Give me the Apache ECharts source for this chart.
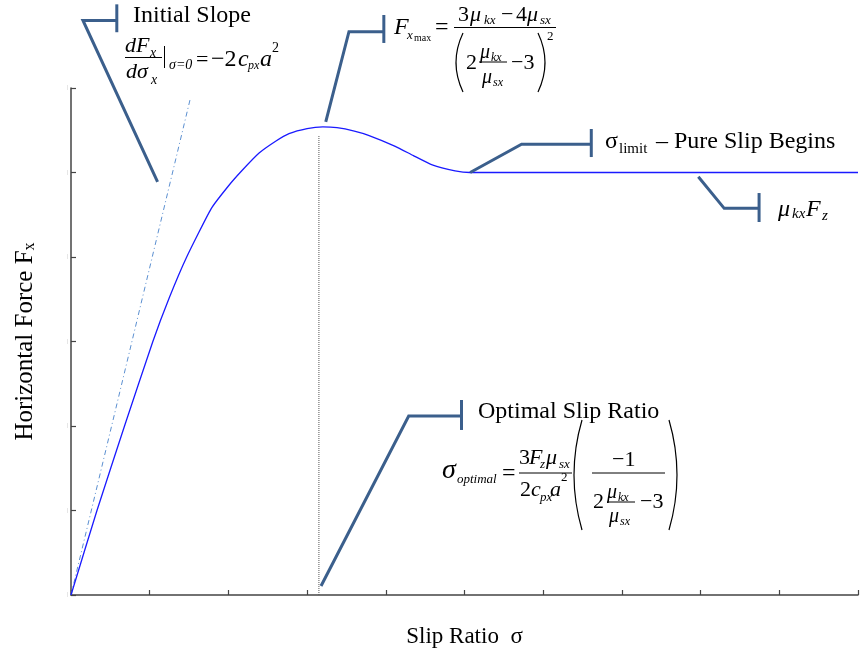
<!DOCTYPE html>
<html><head><meta charset="utf-8">
<script src="https://cdn.jsdelivr.net/npm/echarts@6/dist/echarts.min.js"></script>
<style>html,body{margin:0;padding:0;background:#fff}#c{width:861px;height:657px}</style>
</head><body><div id="c"></div>
<script>
// ---- data (slip ratio in tenths, force in arbitrary units) ----
const slipRatio = [0, 0.33, 0.68, 1.04, 1.25, 1.47, 1.78, 2.0, 2.17, 2.39, 2.6, 2.77, 3.0, 3.2, 3.38, 3.6, 3.78, 4.12, 4.35, 4.59, 4.88, 5.07, 10];
const forceFx   = [0, 1.0, 2.0, 3.0, 3.52, 4.0, 4.57, 4.84, 5.02, 5.23, 5.37, 5.46, 5.52, 5.54, 5.53, 5.49, 5.44, 5.31, 5.20, 5.09, 5.02, 5.0, 5.0];
const tangentX = [0, 1.52];
const tangentY = [0, 5.89];
const optimalX = [3.15, 3.15];
const optimalY = [0, 5.44];
const xRange = [0, 10];
const yRange = [0, 6];
const xTickLabels = ['', '', '', '', '', '', '', '', '', '', ''];
const yTickLabels = ['', '', '', '', '', '', ''];

// ---- callout leader lines (data coordinates) ----
const calloutPaths = [
  [[1.10, 4.89], [0.152, 6.80], [0.582, 6.80]],
  [[3.237, 5.60], [3.532, 6.666], [3.975, 6.666]],
  [[5.072, 5.0], [5.725, 5.334], [6.611, 5.334]],
  [[7.971, 4.95], [8.30, 4.576], [8.743, 4.576]],
  [[3.177, 0.107], [4.291, 2.118], [4.962, 2.118]]
];
const calloutBars = [
  [[0.582, 6.99], [0.582, 6.66]],
  [[3.975, 6.864], [3.975, 6.533]],
  [[6.611, 5.515], [6.611, 5.183]],
  [[8.743, 4.757], [8.743, 4.414]],
  [[4.962, 2.308], [4.962, 1.953]]
];

const FONT = '"Liberation Serif", "Times New Roman", serif';
function T(x, y, text, size, italic) {
  return { type: 'text', silent: true, z: 50,
    style: { x: x, y: y, text: text, fill: '#000', verticalAlign: 'middle', align: 'left',
      font: (italic ? 'italic ' : '') + size + 'px ' + FONT } };
}
function L(x1, y1, x2, y2, w) {
  return { type: 'line', silent: true, z: 50, shape: { x1, y1, x2, y2 }, style: { stroke: '#000', lineWidth: w || 1 } };
}
function Paren(extreme, end, top, bottom) {
  const cp = 2 * extreme - end;
  return { type: 'bezierCurve', silent: true, z: 50,
    shape: { x1: end, y1: top, x2: end, y2: bottom, cpx1: cp, cpy1: (top + bottom) / 2 },
    style: { stroke: '#000', lineWidth: 1.2, fill: null } };
}

const graphics = [
  // Initial slope
  T(133, 16, 'Initial Slope', 24),
  T(125, 46, 'dF', 22, true), T(150, 53, 'x', 14, true),
  L(125, 57.5, 162, 57.5),
  T(126, 72, 'dσ', 22, true), T(151, 80, 'x', 14, true),
  L(164.5, 46, 164.5, 68),
  T(169, 65, 'σ=0', 14, true),
  T(196, 60, '=', 22), T(211, 60, '−2', 24), T(238, 60, 'c', 24, true),
  T(248, 66, 'px', 12, true), T(260, 60, 'a', 24, true), T(272, 48, '2', 14),
  // F x max
  T(394, 28, 'F', 24, true), T(407, 36, 'x', 13, true), T(414, 38, 'max', 10),
  T(435, 28, '=', 24),
  T(458, 15, '3', 22), T(470, 15, 'μ', 22, true), T(484, 21, 'kx', 13, true),
  T(501, 15, '−', 22), T(516, 15, '4', 22), T(527, 15, 'μ', 22, true), T(540, 21, 'sx', 13, true),
  L(454, 27.5, 556, 27.5),
  Paren(456, 463, 33, 92),
  T(466, 63, '2', 22),
  T(480, 53, 'μ', 20, true), T(491, 58, 'kx', 12, true),
  L(479, 62, 507, 62),
  T(482, 78, 'μ', 20, true), T(493, 83, 'sx', 12, true),
  T(511, 63, '−3', 22),
  Paren(545, 538, 33, 92),
  T(547, 37, '2', 13),
  // sigma limit
  T(605, 142, 'σ', 24), T(619, 149, 'limit', 15), T(656, 142, '– Pure Slip Begins', 24),
  // mu kx Fz
  T(778, 210, 'μ', 24, true), T(792, 214, 'kx', 15, true), T(806, 210, 'F', 24, true), T(822, 216, 'z', 15, true),
  // optimal slip ratio
  T(478, 412, 'Optimal Slip Ratio', 24),
  T(442, 471, 'σ', 28, true), T(457, 480, 'optimal', 13, true),
  T(502, 474, '=', 24),
  T(519, 458, '3', 22), T(529, 458, 'F', 22, true), T(540, 465, 'z', 13, true),
  T(546, 458, 'μ', 22, true), T(559, 465, 'sx', 13, true),
  L(519, 473, 572, 473),
  T(520, 490, '2', 22), T(531, 490, 'c', 22, true), T(540, 498, 'px', 13, true),
  T(550, 490, 'a', 22, true), T(561, 478, '2', 13),
  Paren(574, 582, 420, 530),
  T(612, 460, '−1', 22),
  L(592, 473, 665, 473),
  T(593, 502, '2', 22),
  T(607, 493, 'μ', 20, true), T(618, 498, 'kx', 12, true),
  L(607, 502, 635, 502),
  T(609, 517, 'μ', 20, true), T(620, 522, 'sx', 12, true),
  T(640, 502, '−3', 22),
  Paren(677, 669, 420, 530)
];

const chart = echarts.init(document.getElementById('c'), null, { renderer: 'canvas' });
const axisColor = '#444';
chart.setOption({
  animation: false,
  backgroundColor: '#fff',
  grid: { left: 71, right: 0, top: 88, bottom: 62, containLabel: false },
  xAxis: {
    type: 'value', min: xRange[0], max: xRange[1], interval: 1,
    name: 'Slip Ratio  σ', nameLocation: 'middle', nameGap: 30,
    nameTextStyle: { fontFamily: FONT, fontSize: 23, color: '#000' },
    axisLine: { show: true, onZero: false, lineStyle: { color: axisColor, width: 1.5 } },
    axisTick: { show: true, inside: true, length: 5, lineStyle: { color: axisColor, width: 1.2 } },
    axisLabel: { show: true, formatter: (v, i) => xTickLabels[i] || '' },
    splitLine: { show: false }
  },
  yAxis: {
    type: 'value', min: yRange[0], max: yRange[1], interval: 1,
    name: 'Horizontal Force F{s|x}', nameLocation: 'middle', nameGap: 33,
    nameTextStyle: { fontFamily: FONT, fontSize: 25, color: '#000',
      rich: { s: { fontFamily: FONT, fontSize: 16, color: '#000', padding: [9, 0, 0, 0] } } },
    axisLine: { show: true, onZero: false, lineStyle: { color: axisColor, width: 1.5 } },
    axisTick: { show: true, inside: true, length: 5, lineStyle: { color: axisColor, width: 1.2 } },
    axisLabel: { show: true, margin: 3, fontSize: 5, color: '#c8c8c8', formatter: () => '|' },
    splitLine: { show: false }
  },
  series: [
    { type: 'line', name: 'tangent', data: tangentX.map((x, i) => [x, tangentY[i]]), showSymbol: false,
      lineStyle: { color: '#5b8fd0', width: 1, type: [5, 3, 1, 3] }, z: 2 },
    { type: 'line', name: 'optimal', data: optimalX.map((x, i) => [x, optimalY[i]]), showSymbol: false,
      lineStyle: { color: '#555', width: 1, type: [1, 1] }, z: 2 },
    { type: 'line', name: 'Fx', data: slipRatio.map((x, i) => [x, forceFx[i]]), showSymbol: false,
      smooth: 0.15, lineStyle: { color: '#1a1aff', width: 1.3 }, z: 3 },
    { type: 'lines', coordinateSystem: 'cartesian2d', polyline: true, clip: false, silent: true,
      data: calloutPaths.concat(calloutBars).map(c => ({ coords: c })),
      lineStyle: { color: '#3b5f8c', width: 3, opacity: 1, curveness: 0 }, z: 4 }
  ],
  graphic: { elements: graphics }
});
</script></body></html>
